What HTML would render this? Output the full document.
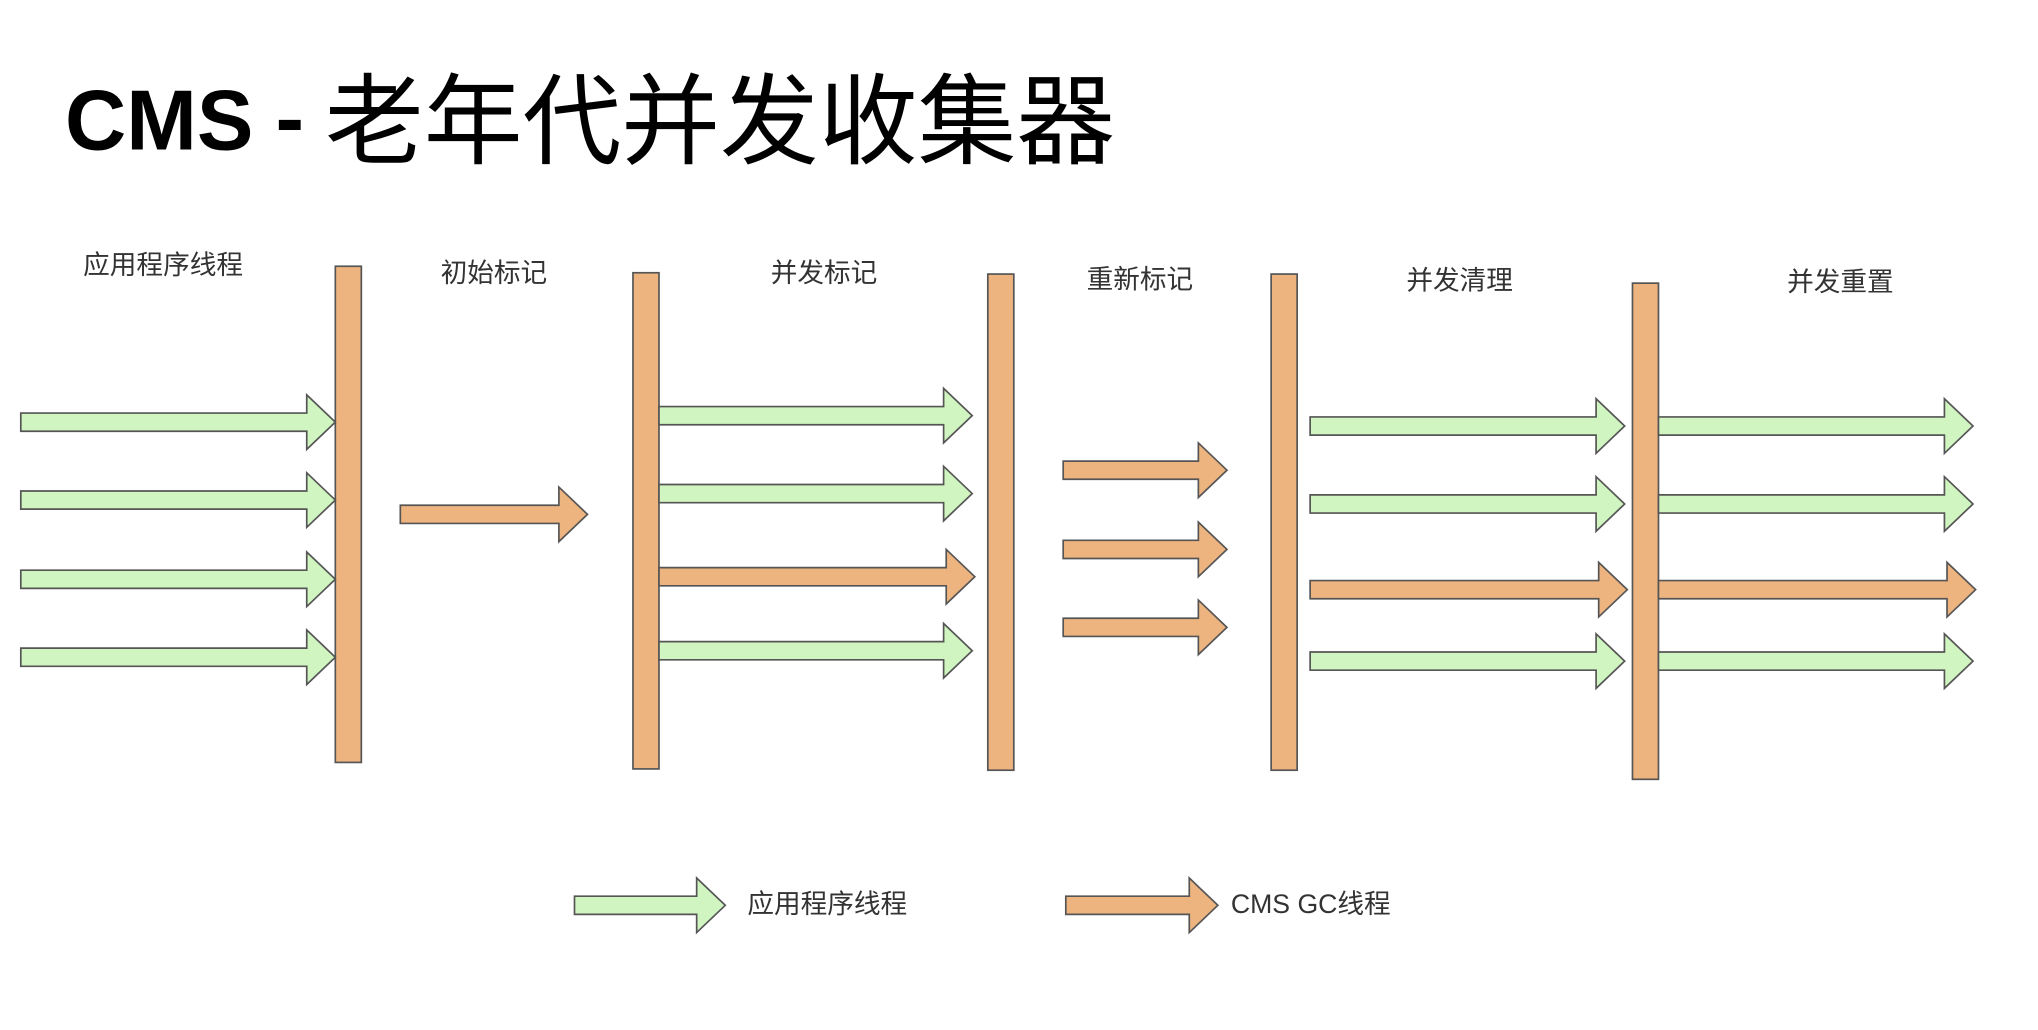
<!DOCTYPE html>
<html><head><meta charset="utf-8"><style>
html,body{margin:0;padding:0;background:#fff;}
svg{display:block}
text{font-family:"Liberation Sans","Noto Sans CJK SC",sans-serif;}
</style></head><body>
<svg width="2038" height="1030" viewBox="0 0 1568 793" preserveAspectRatio="none" xmlns="http://www.w3.org/2000/svg">
<text x="50" y="115" font-size="66" font-weight="bold" fill="#000" textLength="145" lengthAdjust="spacingAndGlyphs">CMS</text>
<text x="212" y="113" font-size="66" font-weight="bold" fill="#000">-</text>
<text x="250" y="120" font-size="76" fill="#000" style="font-family:'Noto Sans CJK SC',sans-serif" textLength="608" lengthAdjust="spacingAndGlyphs">老年代并发收集器</text>

<g font-size="20.5" fill="#333" style="font-family:'Noto Sans CJK SC',sans-serif">
<text x="64" y="211">应用程序线程</text>
<text x="339" y="217">初始标记</text>
<text x="593" y="217">并发标记</text>
<text x="836" y="222">重新标记</text>
<text x="1082" y="223">并发清理</text>
<text x="1375" y="224">并发重置</text>
<text x="575" y="703">应用程序线程</text>
</g>
<text x="947" y="703" font-size="20.5" fill="#333">CMS GC<tspan style="font-family:'Noto Sans CJK SC',sans-serif">线程</tspan></text>

<g stroke="#555" stroke-width="1.3" fill="#EDB480">
<rect x="258" y="205" width="20" height="382"/>
<rect x="487" y="210" width="20" height="382"/>
<rect x="760" y="211" width="20" height="382"/>
<rect x="978" y="211" width="20" height="382"/>
<rect x="1256" y="218" width="20" height="382"/>
</g>

<g stroke="#555" stroke-width="1.3" fill="#D0F5C0">
<polygon points="16,318 236,318 236,304 258,325 236,346 236,332 16,332"/>
<polygon points="16,378 236,378 236,364 258,385 236,406 236,392 16,392"/>
<polygon points="16,439 236,439 236,425 258,446 236,467 236,453 16,453"/>
<polygon points="16,499 236,499 236,485 258,506 236,527 236,513 16,513"/>
<polygon points="507,313 726,313 726,299 748,320 726,341 726,327 507,327"/>
<polygon points="507,373 726,373 726,359 748,380 726,401 726,387 507,387"/>
<polygon points="507,494 726,494 726,480 748,501 726,522 726,508 507,508"/>
<polygon points="1008,321 1228,321 1228,307 1250,328 1228,349 1228,335 1008,335"/>
<polygon points="1008,381 1228,381 1228,367 1250,388 1228,409 1228,395 1008,395"/>
<polygon points="1008,502 1228,502 1228,488 1250,509 1228,530 1228,516 1008,516"/>
<polygon points="1276,321 1496,321 1496,307 1518,328 1496,349 1496,335 1276,335"/>
<polygon points="1276,381 1496,381 1496,367 1518,388 1496,409 1496,395 1276,395"/>
<polygon points="1276,502 1496,502 1496,488 1518,509 1496,530 1496,516 1276,516"/>
<polygon points="442,690 536,690 536,676 558,697 536,718 536,704 442,704"/>
</g>
<g stroke="#555" stroke-width="1.3" fill="#EDB480">
<polygon points="308,389 430,389 430,375 452,396 430,417 430,403 308,403"/>
<polygon points="507,437 728,437 728,423 750,444 728,465 728,451 507,451"/>
<polygon points="818,355 922,355 922,341 944,362 922,383 922,369 818,369"/>
<polygon points="818,416 922,416 922,402 944,423 922,444 922,430 818,430"/>
<polygon points="818,476 922,476 922,462 944,483 922,504 922,490 818,490"/>
<polygon points="1008,447 1230,447 1230,433 1252,454 1230,475 1230,461 1008,461"/>
<polygon points="1276,447 1498,447 1498,433 1520,454 1498,475 1498,461 1276,461"/>
<polygon points="820,690 915,690 915,676 937,697 915,718 915,704 820,704"/>
</g>
</svg>
</body></html>
